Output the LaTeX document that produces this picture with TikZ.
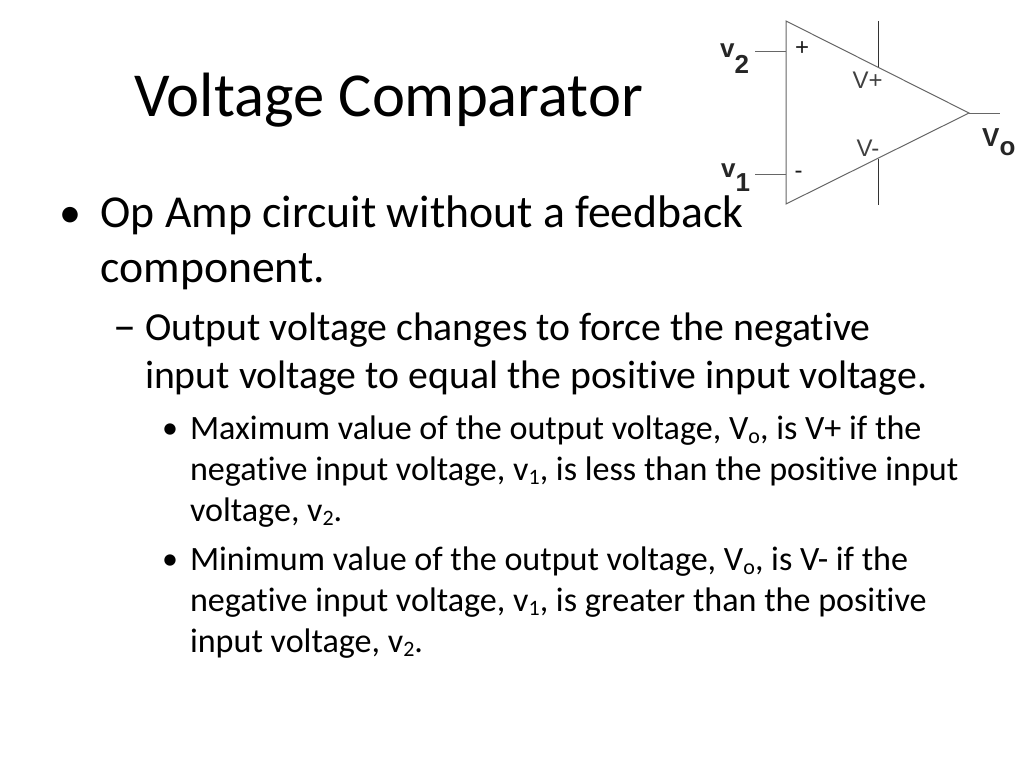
\documentclass[tikz,border=0pt]{standalone}
\usepackage{fontspec}
\setmainfont[RawFeature=-liga]{Carlito}
\setsansfont{Liberation Sans}
\usetikzlibrary{positioning}
\tikzset{
  slide/.style={inner sep=0pt, outer sep=0pt, anchor=base west, align=left},
  headfont/.style={font=\fontsize{62.6}{62.6}\selectfont},
  levelone/.style={slide, font=\fontsize{45.7}{45.7}\selectfont},
  leveltwo/.style={slide, font=\fontsize{39.75}{39.75}\selectfont},
  levelthree/.style={slide, font=\fontsize{34.1}{34.1}\selectfont},
  wirefine/.style={draw=black!60, line width=1pt},
  railfine/.style={draw=black!80, line width=0.8pt},
  pinbig/.style={inner sep=0pt, anchor=base west, font=\sffamily\bfseries\fontsize{26}{26}\selectfont, text=black!85},
  pinsmall/.style={inner sep=0pt, font=\sffamily\fontsize{24}{24}\selectfont, text=black!75},
  signmark/.style={pinsmall, text=black!90},
}
\newcommand{\sublow}[1]{\raisebox{-4pt}{\fontsize{22}{22}\selectfont #1}}
\newcommand{\pinsub}[2]{\raisebox{-#1pt}{#2}}
\begin{document}
\begin{tikzpicture}[x=1pt,y=-1pt]
  \useasboundingbox (0,0) rectangle (1024,768);
  % title
  \node[slide, headfont] (title) at (134,116) {Voltage Comparator};
  % level one
  \node[levelone, font=\fontsize{44}{44}\selectfont] (bulA) at (59,227) {•};
  \node[levelone] (lineA) at (100.5,227.5) {Op Amp circuit without a feedback};
  \node[levelone] (lineB) at (100.5,282.5) {component.};
  % level two
  \node[leveltwo, font=\fontsize{46}{46}\selectfont] (dashA) at (113,341) {–};
  \node[leveltwo] (lineC) at (145,340) {Output voltage changes to force the negative};
  \node[leveltwo] (lineD) at (145,388) {input voltage to equal the positive input voltage.};
  % level three
  \node[levelthree, font=\fontsize{32}{32}\selectfont] (bulB) at (162,438) {•};
  \node[levelthree] (lineE) at (190,439) {Maximum value of the output voltage, V\sublow{o}, is V+ if the};
  \node[levelthree] (lineF) at (190,480) {negative input voltage, v\sublow{1}, is less than the positive input};
  \node[levelthree] (lineG) at (190,521) {voltage, v\sublow{2}.};
  \node[levelthree, font=\fontsize{32}{32}\selectfont] (bulC) at (162,569) {•};
  \node[levelthree] (lineH) at (190,570) {Minimum value of the output voltage, V\sublow{o}, is V- if the};
  \node[levelthree] (lineI) at (190,611) {negative input voltage, v\sublow{1}, is greater than the positive};
  \node[levelthree] (lineJ) at (190,652) {input voltage, v\sublow{2}.};
  % op amp
  \coordinate (apexT) at (786,21);
  \coordinate (apexB) at (786,204);
  \coordinate (apexR) at (969,113);
  \draw[wirefine] (apexT) -- (apexR) -- (apexB) -- cycle;
  \coordinate (inP) at (755,52);
  \coordinate (inPend) at (786,52);
  \coordinate (inN) at (755,174);
  \coordinate (inNend) at (786,174);
  \coordinate (outEnd) at (1000,113);
  \coordinate (railPt) at (878,21);
  \coordinate (railPb) at (878,67);
  \coordinate (railNt) at (878,159);
  \coordinate (railNb) at (878,205);
  \draw[wirefine] (inP) -- (inPend);
  \draw[wirefine] (inN) -- (inNend);
  \draw[wirefine] (apexR) -- (outEnd);
  \draw[railfine] (railPt) -- (railPb);
  \draw[railfine] (railNt) -- (railNb);
  \node[signmark] (plus) at (802,49) {+};
  \node[signmark] (minus) at (798.5,175) {-};
  \node[pinsmall] (vp) at (867.5,80) {V+};
  \node[pinsmall] (vm) at (868,148) {V-};
  \node[pinbig] (v2) at (720,57) {v\pinsub{17}{2}};
  \node[pinbig] (v1) at (721,177) {v\pinsub{14}{1}};
  \node[pinbig] (vo) at (982,146) {V\pinsub{9}{o}};
\end{tikzpicture}
\end{document}
